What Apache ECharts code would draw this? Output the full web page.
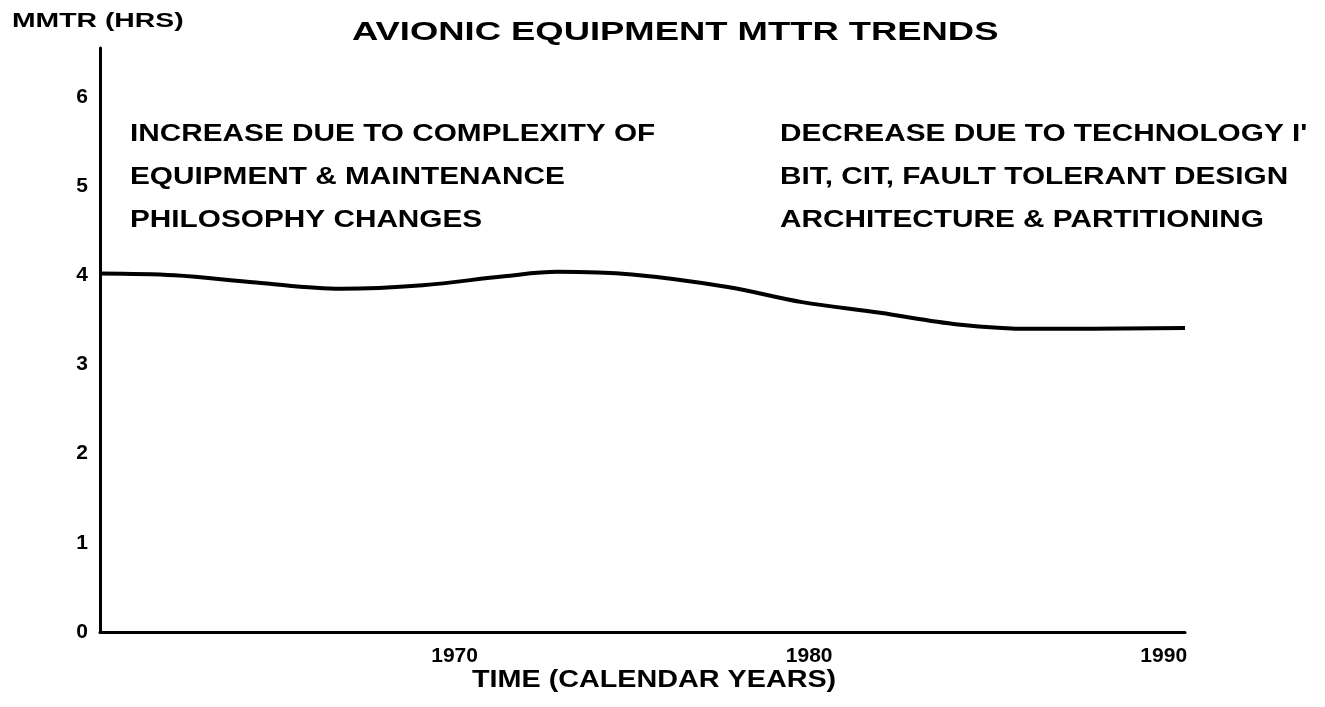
<!DOCTYPE html>
<html lang="en">

<head>
  <meta charset="UTF-8" />
  <title>AVIONIC EQUIPMENT MTTR TRENDS</title>
  <style>
    html, body { margin: 0; padding: 0; background: #fff; }
  </style>
</head>

<body>
  <div id="main" style="width: 1325px; height: 707px;"></div>
  <script src="https://cdn.jsdelivr.net/npm/echarts@6/dist/echarts.min.js"></script>
  <script type="text/javascript">
    // 读图得到的数据
    const years = [1960, 1962.1, 1964.4, 1966.8, 1969.1, 1971.4, 1972.9, 1975.0, 1977.7, 1979.8, 1982.0, 1984.2, 1986.3, 1990.6]
    const mttrHours = [4.02, 4.00, 3.92, 3.85, 3.89, 3.99, 4.04, 4.01, 3.87, 3.70, 3.58, 3.45, 3.40, 3.41]
    const yearTicks = [1970, 1980, 1990]
    const hourTicks = [0, 1, 2, 3, 4, 5, 6]
    const leftNote = ['INCREASE DUE TO COMPLEXITY OF', 'EQUIPMENT & MAINTENANCE', 'PHILOSOPHY CHANGES']
    const rightNote = ['DECREASE DUE TO TECHNOLOGY I\'', 'BIT, CIT, FAULT TOLERANT DESIGN', 'ARCHITECTURE & PARTITIONING']

    const font = '"Liberation Sans", Arial, sans-serif'
    let container = document.getElementById("main")
    var myChart = echarts.init(container)

    let data = years.map((y, i) => [y, mttrHours[i]])

    // 原图字距很宽，用 scaleX 横向拉伸
    function label(text, left, top, size, stretch, lineHeight) {
      return {
        type: 'text',
        x: left,
        y: top,
        scaleX: stretch,
        style: {
          text,
          font: `bold ${size}px ${font}`,
          lineHeight: lineHeight || size,
          fill: '#000'
        }
      }
    }

    var option = {
      backgroundColor: '#fff',
      animation: false,
      grid: { left: 100, right: 140, top: 48, bottom: 75 },
      xAxis: {
        type: 'value',
        min: 1960,
        max: 1990.6,
        interval: 10,
        axisLine: { lineStyle: { color: '#000', width: 3 } },
        axisTick: { show: false },
        splitLine: { show: false },
        axisLabel: {
          margin: 14,
          color: '#000',
          fontFamily: font,
          fontSize: 21,
          fontWeight: 'bold',
          formatter: v => yearTicks.includes(v) ? String(v) : ''
        }
      },
      yAxis: {
        type: 'value',
        min: 0,
        max: 6.55,
        interval: 1,
        axisLine: { show: true, lineStyle: { color: '#000', width: 3 } },
        axisTick: { show: false },
        splitLine: { show: false },
        axisLabel: {
          margin: 12,
          color: '#000',
          fontFamily: font,
          fontSize: 21,
          fontWeight: 'bold',
          formatter: v => hourTicks.includes(v) ? String(v) : ''
        }
      },
      graphic: [
        label('AVIONIC EQUIPMENT MTTR TRENDS', 352, 20, 26, 1.4),
        label('MMTR (HRS)', 12, 11, 21, 1.35),
        label('TIME (CALENDAR YEARS)', 472, 669, 23, 1.25),
        label(leftNote.join('\n'), 130, 113, 24, 1.24, 43),
        label(rightNote.join('\n'), 780, 113, 24, 1.24, 43)
      ],
      series: [
        {
          name: 'MTTR',
          type: 'line',
          smooth: 0.35,
          symbol: 'none',
          lineStyle: { color: '#000', width: 4 },
          data
        }
      ]
    }
    // 使用刚指定的配置项和数据显示图表。
    myChart.setOption(option)
  </script>
</body>

</html>
